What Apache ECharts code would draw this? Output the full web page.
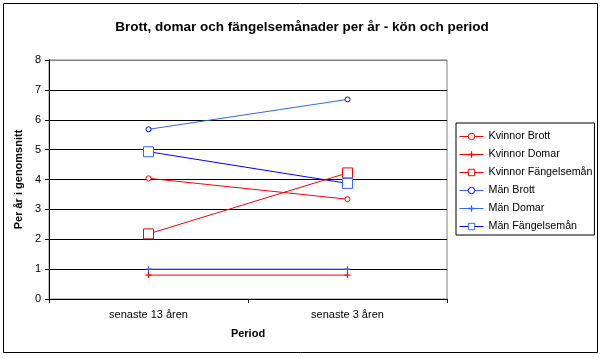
<!DOCTYPE html>
<html><head><meta charset="utf-8">
<script src="https://cdn.jsdelivr.net/npm/echarts@6/dist/echarts.min.js"></script>
<style>html,body{margin:0;padding:0;background:#fff}#c{width:604px;height:359px}</style>
</head><body><div id="c"></div>
<script>
const categories = ['senaste 13 åren', 'senaste 3 åren'];
const kvinnorBrott = [4.04, 3.34];
const kvinnorDomar = [0.8, 0.8];
const kvinnorFangelse = [2.18, 4.22];
const manBrott = [5.68, 6.68];
const manDomar = [1.0, 1.0];
const manFangelse = [4.93, 3.87];
const yTicks = { min: 0, max: 8, interval: 1 };

const FONT = '"Liberation Sans", Arial, sans-serif';
const plus = 'path://M4,0H6V4H10V6H6V10H4V6H0V4H4Z';
function ser(name, data, lineColor, markColor, symbol, size, hollow) {
  return {
    name, type: 'line', data,
    symbol, symbolSize: size,
    lineStyle: { color: lineColor, width: 1 },
    itemStyle: hollow ? { color: '#fff', borderColor: markColor, borderWidth: 1 } : { color: markColor, borderWidth: 0 },
    emphasis: { disabled: true },
    animation: false
  };
}
const chart = echarts.init(document.getElementById('c'), null, { renderer: 'canvas' });
chart.setOption({
  animation: false,
  backgroundColor: '#fff',
  textStyle: { fontFamily: FONT },
  title: {
    text: 'Brott, domar och fängelsemånader per år - kön och period',
    left: 'center', top: 15,
    textStyle: { fontFamily: FONT, fontSize: 13.5, fontWeight: 'bold', color: '#000' }
  },
  grid: { left: 49, right: 157, top: 60, bottom: 60, show: true, borderColor: '#808080', borderWidth: 1 },
  legend: {
    orient: 'vertical', left: 456, top: 123,
    padding: [8, 2, 3, 3], itemGap: 7, itemWidth: 24, itemHeight: 8, itemTextGap: 2,
    lineStyle: { width: 1 },
    itemStyle: { borderWidth: 1 },
    borderColor: '#000', borderWidth: 1, borderRadius: 0, backgroundColor: '#fff',
    textStyle: { fontFamily: FONT, fontSize: 10.7, color: '#000' },
    data: ['Kvinnor Brott', 'Kvinnor Domar', 'Kvinnor Fängelsemån', 'Män Brott', 'Män Domar', 'Män Fängelsemån']
  },
  xAxis: {
    type: 'category', data: categories, boundaryGap: true,
    name: 'Period', nameLocation: 'middle', nameGap: 29,
    nameTextStyle: { fontFamily: FONT, fontSize: 11, fontWeight: 'bold', color: '#000' },
    axisLine: { lineStyle: { color: '#000', width: 1 } },
    axisTick: { show: true, length: 4, lineStyle: { color: '#000' } },
    axisLabel: { fontFamily: FONT, fontSize: 11, color: '#000', margin: 10 }
  },
  yAxis: {
    type: 'value', min: yTicks.min, max: yTicks.max, interval: yTicks.interval,
    name: 'Per år i genomsnitt', nameLocation: 'middle', nameGap: 15, nameRotate: 90,
    nameTextStyle: { fontFamily: FONT, fontSize: 11, fontWeight: 'bold', color: '#000' },
    axisLine: { show: true, lineStyle: { color: '#000', width: 1 } },
    axisTick: { show: true, length: 4, lineStyle: { color: '#000' } },
    axisLabel: { fontFamily: FONT, fontSize: 11, color: '#000', margin: 8 },
    splitLine: { show: true, lineStyle: { color: ['#000','#000','#000','#000','#000','#000','#000','#000','#808080'], width: 1 } }
  },
  graphic: [{
    type: 'rect', shape: { x: 3.5, y: 3.5, width: 594, height: 349 },
    style: { fill: 'none', stroke: '#000', lineWidth: 1 }, silent: true, z: 100
  }],
  series: [
    ser('Kvinnor Brott', kvinnorBrott, '#FF0000', '#FF0000', 'circle', 5, true),
    ser('Kvinnor Domar', kvinnorDomar, '#FF0000', '#FF0000', plus, 6, false),
    ser('Kvinnor Fängelsemån', kvinnorFangelse, '#FF0000', '#FF0000', 'rect', 10, true),
    ser('Män Brott', manBrott, '#3366FF', '#0000FF', 'circle', 5, true),
    ser('Män Domar', manDomar, '#3366FF', '#3366FF', plus, 6, false),
    ser('Män Fängelsemån', manFangelse, '#0000FF', '#3366FF', 'rect', 10, true)
  ]
});
</script></body></html>
